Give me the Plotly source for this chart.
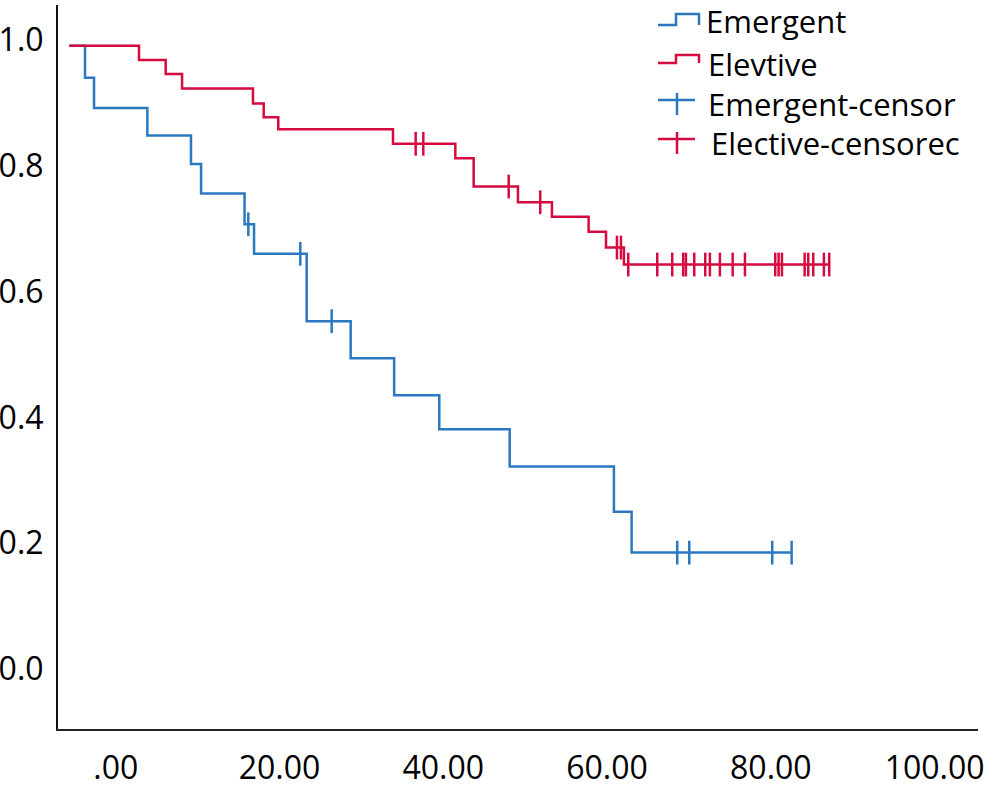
import plotly.graph_objects as go

# ---- data ----
emergent_time = [-5.67, -3.75, -2.65, 3.86, 9.19, 10.42, 15.73, 16.89, 23.32, 28.69,
                 34.00, 39.51, 48.11, 60.84, 63.00, 82.54]
emergent_surv = [0.991, 0.940, 0.892, 0.848, 0.803, 0.756, 0.707, 0.660, 0.553, 0.494,
                 0.435, 0.381, 0.322, 0.250, 0.185, 0.185]

elective_time = [-5.67, 2.84, 6.10, 8.10, 16.76, 18.07, 19.85, 33.86, 41.47, 43.71,
                 49.12, 53.27, 57.75, 59.87, 62.06, 87.13]
elective_surv = [0.991, 0.968, 0.946, 0.923, 0.899, 0.877, 0.858, 0.835, 0.812, 0.767,
                 0.742, 0.719, 0.695, 0.670, 0.643, 0.643]

emergent_cens_time = [16.19, 22.54, 26.37, 68.57, 70.04, 80.17, 82.54]
emergent_cens_surv = [0.707, 0.660, 0.553, 0.185, 0.185, 0.185, 0.185]

elective_cens_time = [36.63, 37.56, 47.99, 51.84, 61.21, 61.70, 62.59, 66.13, 67.96,
                      69.30, 69.63, 70.65, 71.99, 72.56, 73.78, 75.34, 76.84, 80.54,
                      80.95, 81.36, 84.13, 84.57, 85.18, 86.48, 87.13]
elective_cens_surv = [0.835, 0.835, 0.767, 0.742, 0.670, 0.670] + [0.643] * 19

x_tick_vals = [0, 20, 40, 60, 80, 100]
x_tick_text = [".00", "20.00", "40.00", "60.00", "80.00", "100.00"]
y_tick_vals = [0.0, 0.2, 0.4, 0.6, 0.8, 1.0]
y_tick_text = ["0.0", "0.2", "0.4", "0.6", "0.8", "1.0"]

legend_names = ["Emergent", "Elevtive", "Emergent-censor", "Elective-censorec"]

BLUE = "#2a78c0"
RED = "#d60a3e"
FONT = "Open Sans"

W, H = 998, 789
ML, MR, MT, MB = 58, 20, 5, 60

fig = go.Figure()
fig.add_trace(go.Scatter(x=emergent_time, y=emergent_surv, mode="lines",
                         line=dict(color=BLUE, width=2.5, shape="hv"),
                         name=legend_names[0], showlegend=False))
fig.add_trace(go.Scatter(x=elective_time, y=elective_surv, mode="lines",
                         line=dict(color=RED, width=2.5, shape="hv"),
                         name=legend_names[1], showlegend=False))
fig.add_trace(go.Scatter(x=emergent_cens_time, y=emergent_cens_surv, mode="markers",
                         marker=dict(symbol="line-ns", size=17,
                                     line=dict(color=BLUE, width=2.5)),
                         name=legend_names[2], showlegend=False))
fig.add_trace(go.Scatter(x=elective_cens_time, y=elective_cens_surv, mode="markers",
                         marker=dict(symbol="line-ns", size=17,
                                     line=dict(color=RED, width=2.5)),
                         name=legend_names[3], showlegend=False))

# ---- hand-drawn legend (pixel positions converted to paper coords) ----
PW, PH = W - ML - MR, H - MT - MB


def px(x):
    return (x - ML) / PW


def py(y):
    return (H - MB - y) / PH


def path(points):
    s = "M {:.5f},{:.5f}".format(px(points[0][0]), py(points[0][1]))
    for (a, b) in points[1:]:
        s += " L {:.5f},{:.5f}".format(px(a), py(b))
    return s


shapes = []
shapes.append(dict(type="path", xref="paper", yref="paper",
                   path=path([(658, 25), (676, 25), (676, 14), (699, 14), (699, 25)]),
                   line=dict(color=BLUE, width=2.5)))
shapes.append(dict(type="path", xref="paper", yref="paper",
                   path=path([(658, 63), (676, 63), (676, 55), (699, 55), (699, 63)]),
                   line=dict(color=RED, width=2.5)))
for (cy, col) in [(100, BLUE), (139, RED)]:
    shapes.append(dict(type="path", xref="paper", yref="paper",
                       path=path([(658, cy), (695, cy)]), line=dict(color=col, width=2.5)))
    shapes.append(dict(type="path", xref="paper", yref="paper",
                       path=path([(677, cy - 7), (677, cy + 15)]), line=dict(color=col, width=2.5)))

annotations = []
for name, (tx, ty) in zip(legend_names, [(705, 21), (707, 64), (707, 104), (710, 143)]):
    annotations.append(dict(text=name, xref="paper", yref="paper", x=px(tx), y=py(ty),
                            xanchor="left", yanchor="middle", showarrow=False, borderpad=0,
                            font=dict(family=FONT, size=31, color="black")))

fig.update_layout(
    width=W, height=H,
    margin=dict(l=ML, r=MR, t=MT, b=MB, pad=0, autoexpand=False),
    plot_bgcolor="white", paper_bgcolor="white",
    font=dict(family=FONT, size=32, color="black"),
    shapes=shapes, annotations=annotations,
    showlegend=False,
)
fig.update_xaxes(range=[-7.05, 105.3], tickvals=x_tick_vals, ticktext=x_tick_text,
                 showgrid=False, zeroline=False, showline=True, linecolor="#222",
                 linewidth=2, ticks="", ticklabelstandoff=10, automargin=False,
                 tickfont=dict(family=FONT, size=32, color="black"))
fig.update_yaxes(range=[-0.0954, 1.0556], tickvals=y_tick_vals, ticktext=y_tick_text,
                 showgrid=False, zeroline=False, showline=True, linecolor="#111",
                 linewidth=2, ticks="", ticklabelstandoff=6, automargin=False,
                 tickfont=dict(family=FONT, size=32, color="black"))

fig.write_html("out.html")
